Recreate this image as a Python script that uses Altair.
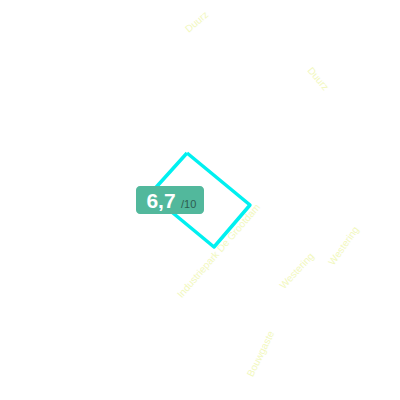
import altair as alt
import pandas as pd

# polygon vertices (closed)
poly_x = [187, 250, 214, 150, 187]
poly_y = [153, 205, 247, 194, 153]

# axis labels
label_text = ["Duurz", "Duurz", "Industriepark De Grootdam", "Westering", "Westering", "Bouwgaste"]
label_x = [197, 318, 219, 297, 344, 261]
label_y = [22, 79, 251, 271, 246, 354]
label_angle = [320, 50, 311, 313, 305, 296]

score_text = "6,7"
score_max = "/10"

X = alt.Scale(domain=[8, 392])
Y = alt.Scale(domain=[392, 8])

poly = pd.DataFrame({"x": poly_x, "y": poly_y, "o": list(range(len(poly_x)))})
labels = pd.DataFrame({"t": label_text, "x": label_x, "y": label_y, "a": label_angle})
badge = pd.DataFrame({"x": [136], "x2": [204], "y": [186], "y2": [214]})
score = pd.DataFrame({"t": [score_text], "x": [161], "y": [208]})
smax = pd.DataFrame({"t": [score_max], "x": [181], "y": [208]})

lab = alt.Chart(labels).mark_text(
    fontSize=10, color="#eef6a8", opacity=0.75, font="Liberation Sans", baseline="middle", align="center"
).encode(
    x=alt.X("x:Q", scale=X, axis=None),
    y=alt.Y("y:Q", scale=Y, axis=None),
    text="t:N",
    angle=alt.Angle("a:Q", scale=None),
)

line = alt.Chart(poly).mark_line(color="#00f0f0", strokeWidth=3.5, strokeJoin="round").encode(
    x=alt.X("x:Q", scale=X, axis=None),
    y=alt.Y("y:Q", scale=Y, axis=None),
    order="o:Q",
)

rect = alt.Chart(badge).mark_rect(color="#52b89c", cornerRadius=4).encode(
    x=alt.X("x:Q", scale=X, axis=None),
    x2="x2:Q",
    y=alt.Y("y:Q", scale=Y, axis=None),
    y2="y2:Q",
)

st = alt.Chart(score).mark_text(
    fontSize=21, fontWeight="bold", color="white", font="Liberation Sans", align="center", baseline="alphabetic"
).encode(
    x=alt.X("x:Q", scale=X, axis=None),
    y=alt.Y("y:Q", scale=Y, axis=None),
    text="t:N",
)

sm = alt.Chart(smax).mark_text(
    fontSize=11, color="#2e5e50", font="Liberation Sans", align="left", baseline="alphabetic"
).encode(
    x=alt.X("x:Q", scale=X, axis=None),
    y=alt.Y("y:Q", scale=Y, axis=None),
    text="t:N",
)

chart = alt.layer(lab, line, rect, st, sm).properties(
    width=384, height=384, padding=0
).configure_view(stroke=None)

chart.save("out.html", embed_options={"renderer": "svg", "actions": False})
